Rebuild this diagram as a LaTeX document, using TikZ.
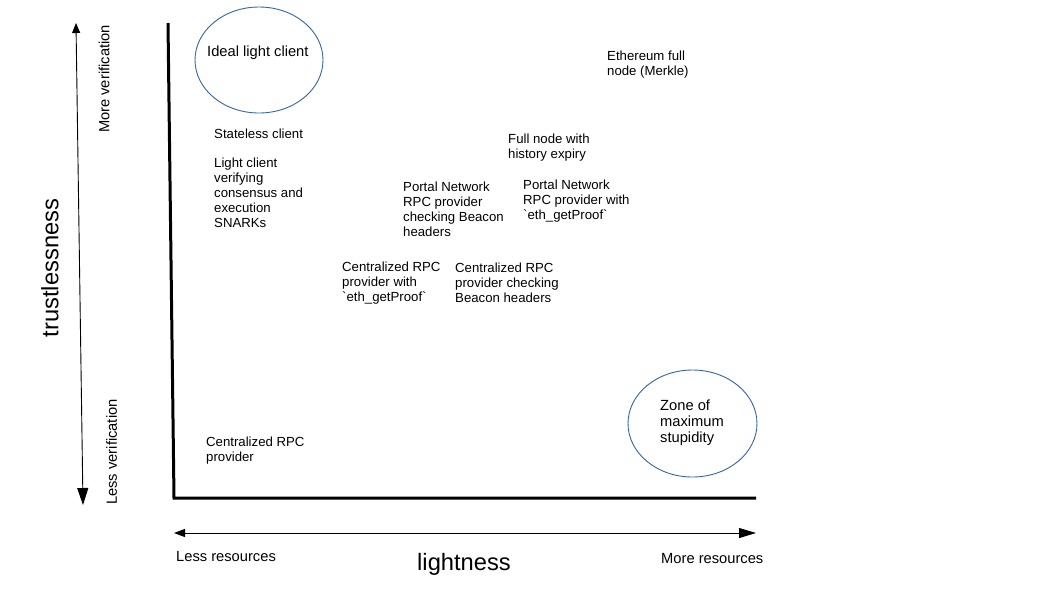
\documentclass[tikz,border=0pt]{standalone}
\usepackage{fontspec}
\setmainfont{Liberation Sans}
\newfontfamily\plainlib{Liberation Sans}
\newcommand{\bq}{{\plainlib\symbol{96}}}
\usetikzlibrary{arrows.meta,shapes.geometric}
\begin{document}
\begin{tikzpicture}[x=1pt,y=-1pt,
  lbl/.style={inner sep=0pt,anchor=west,align=left,font=\fontsize{13.2}{15}\selectfont},
  big/.style={inner sep=0pt,font=\fontsize{14.7}{16}\selectfont},
  huge/.style={inner sep=0pt,font=\fontsize{23.7}{26}\selectfont},
  zone/.style={draw=zoneblue,line width=0.9pt,ellipse,inner sep=0pt},
  axis/.style={line width=3pt,line join=miter},
  thinarrow/.style={line width=0.9pt}
]
\definecolor{zoneblue}{HTML}{3465A4}
\useasboundingbox (0,0) rectangle (1058,595);
% axes
\coordinate (ytop) at (168,23);
\coordinate (orig) at (174,498);
\coordinate (xend) at (756,498);
\draw[axis] (ytop) -- (orig) -- (xend);
% vertical double arrow
\coordinate (vt) at (76,23);
\coordinate (vb) at (83,505);
\draw[thinarrow,{Triangle[length=10pt,width=8pt]}-{Triangle[length=17pt,width=11pt]}] (vt) -- (vb);
% horizontal double arrow
\coordinate (hl) at (174,533);
\coordinate (hr) at (756,533);
\draw[thinarrow,{Triangle[length=11pt,width=8pt]}-{Triangle[length=17pt,width=10pt]}] (hl) -- (hr);
% ellipses
\node[zone,minimum width=128pt,minimum height=106pt] (e1) at (259,60) {};
\node[zone,minimum width=129pt,minimum height=107pt] (e2) at (692.5,423.5) {};
% axis labels
\node[big,rotate=90] (mv) at (104,79) {More verification};
\node[big,rotate=90] (lv) at (111.5,452) {Less verification};
\node[huge,rotate=90] (tr) at (50,268) {trustlessness};
\node[huge] (li) at (464,564) {lightness};
\node[big,anchor=west] (lr) at (176,557) {Less resources};
\node[big,anchor=west] (mr) at (661,558.5) {More resources};
% items
\node[big,anchor=west] (ideal) at (207,53) {Ideal light client};
\node[big,anchor=west,align=left] (zone) at (660,423) {Zone of\\maximum\\stupidity};
\node[lbl] (sc) at (214,133.5) {Stateless client};
\node[lbl] (lc) at (214,192.5) {Light client\\verifying\\consensus and\\execution\\SNARKs};
\node[lbl] (ef) at (607,64.5) {Ethereum full\\node (Merkle)};
\node[lbl] (fn) at (508,148) {Full node with\\history expiry};
\node[lbl] (pb) at (403,209) {Portal Network\\RPC provider\\checking Beacon\\headers};
\node[lbl] (pg) at (523,201.5) {Portal Network\\RPC provider with\\\bq eth\_getProof\bq};
\node[lbl] (cg) at (342,283) {Centralized RPC\\provider with\\\bq eth\_getProof\bq};
\node[lbl] (cb) at (455,283) {Centralized RPC\\provider checking\\Beacon headers};
\node[lbl] (cr) at (206,451) {Centralized RPC\\provider};
\end{tikzpicture}
\end{document}
